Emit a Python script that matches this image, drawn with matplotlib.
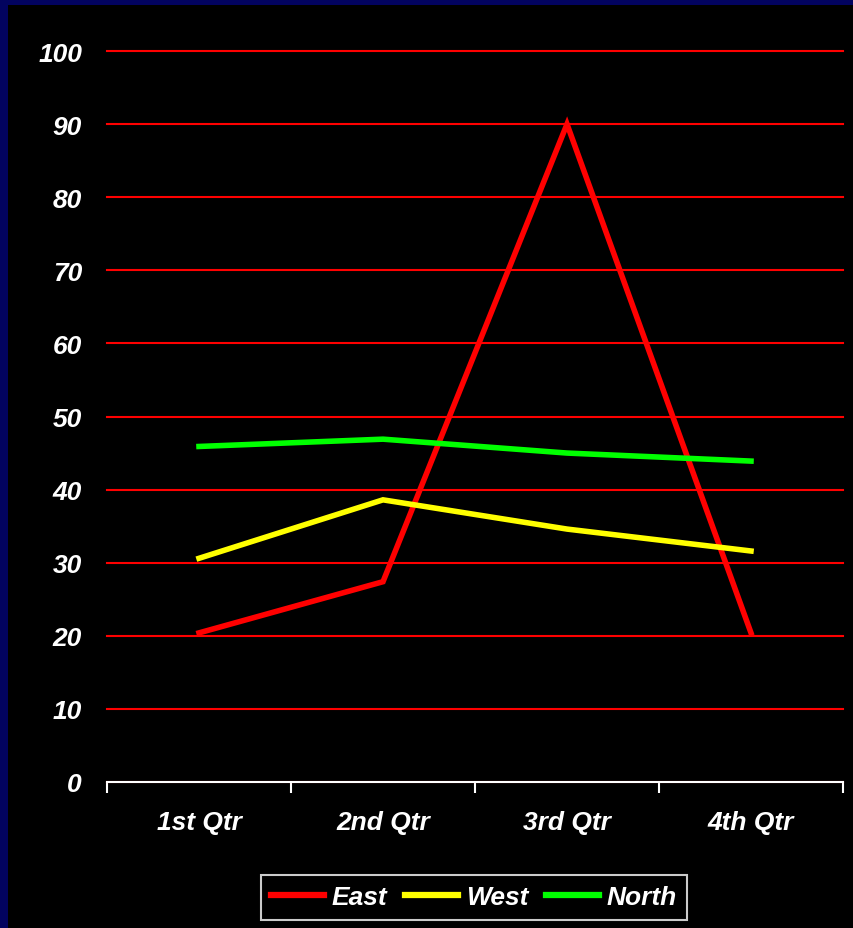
import matplotlib.pyplot as plt
from matplotlib.patches import Rectangle

quarters = ["1st Qtr", "2nd Qtr", "3rd Qtr", "4th Qtr"]
east = [20.4, 27.4, 90, 20.4]
west = [30.6, 38.6, 34.6, 31.6]
north = [45.9, 46.9, 45, 43.9]

plt.rcParams['font.family'] = ['Liberation Sans', 'DejaVu Sans']

fig = plt.figure(figsize=(8.54, 9.29), dpi=100, facecolor="black")
# navy frame along the left and top edges
fig.patches.append(Rectangle((0, 0), 8 / 854, 1, transform=fig.transFigure,
                             facecolor="#02035f", edgecolor="none", zorder=0))
fig.patches.append(Rectangle((0, 1 - 6 / 929), 1, 6 / 929, transform=fig.transFigure,
                             facecolor="#02035f", edgecolor="none", zorder=0))

ax = fig.add_axes([107 / 854, 146 / 929, 736 / 854, 731 / 929])
ax.set_facecolor("black")

x = range(len(quarters))
ax.plot(x, east, color="#ff0000", lw=4.0, label="East", solid_joinstyle="miter")
ax.plot(x, west, color="#ffff00", lw=4.0, label="West", solid_joinstyle="miter")
ax.plot(x, north, color="#00ff00", lw=4.0, label="North", solid_joinstyle="miter")

ax.set_xlim(-0.5, 3.5)
ax.set_ylim(0, 100)
ax.set_yticks(range(0, 101, 10))
ax.yaxis.grid(True, color="#ff0000", lw=1.5)
ax.set_axisbelow(True)
for gl in ax.get_ygridlines():
    gl.set_clip_on(False)

# ticks between categories, labels centred under each quarter
ax.set_xticks([-0.5, 0.5, 1.5, 2.5, 3.5])
ax.set_xticklabels([])
ax.set_xticks(list(x), minor=True)
ax.set_xticklabels(quarters, minor=True)
ax.tick_params(axis="x", which="major", length=8, width=1.5, color="white", direction="out")
ax.tick_params(axis="x", which="minor", length=0, pad=20)
ax.tick_params(axis="y", length=0, pad=18)

for lab in ax.get_xticklabels(minor=True) + ax.get_yticklabels():
    lab.set_color("white")
    lab.set_fontsize(19)
    lab.set_fontweight("bold")
    lab.set_fontstyle("italic")

for side in ["left", "right", "top"]:
    ax.spines[side].set_visible(False)
ax.spines["bottom"].set_color("white")
ax.spines["bottom"].set_linewidth(1.5)

leg = fig.legend(loc="lower center", bbox_to_anchor=(474 / 854, 8 / 929), ncol=3,
                 frameon=True, fancybox=False, facecolor="black", edgecolor="white",
                 handlelength=2.0, handletextpad=0.28, columnspacing=0.7,
                 borderpad=0.4, borderaxespad=0,
                 prop={"size": 19, "weight": "bold", "style": "italic"})
leg.get_frame().set_linewidth(1.5)
for line in leg.get_lines():
    line.set_linewidth(4.5)
for t in leg.get_texts():
    t.set_color("white")

fig.savefig("out.png", dpi=100, facecolor="black")
